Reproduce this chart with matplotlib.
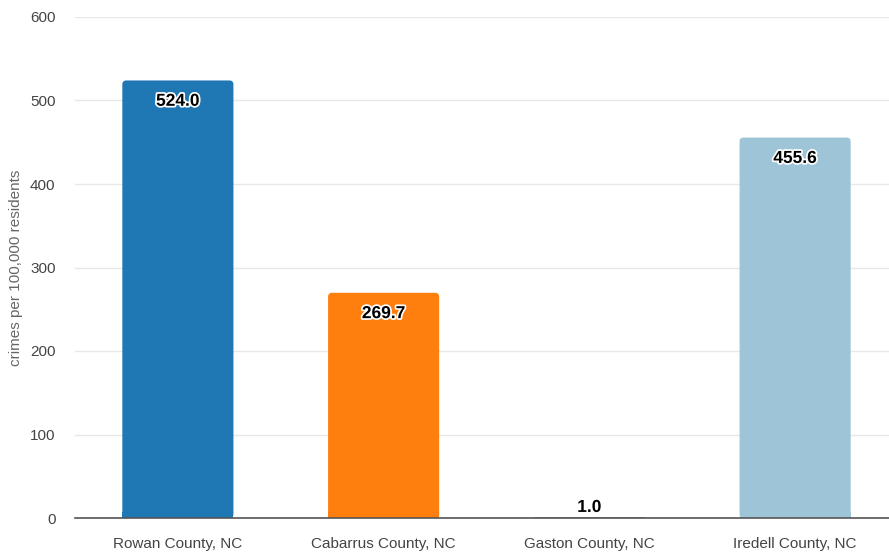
import matplotlib
matplotlib.use("Agg")
import matplotlib.pyplot as plt
import matplotlib.patheffects as pe
from matplotlib.patches import FancyBboxPatch

# Crime rate per 100,000 residents by county
counties = ["Rowan County, NC", "Cabarrus County, NC", "Gaston County, NC", "Iredell County, NC"]
rates = [524.0, 269.7, 1.0, 455.6]
colors = ["#1f77b4", "#ff7f0e", "#a58fc4", "#9ec4d8"]
yticks = [0, 100, 200, 300, 400, 500, 600]

plt.rcParams["font.family"] = ["Liberation Sans", "DejaVu Sans"]

W, H = 889, 557
fig = plt.figure(figsize=(W / 100, H / 100), dpi=100)
# axes runs slightly past the right edge of the figure
ax_w_px, ax_h_px = 823, 501
ax = fig.add_axes([75 / W, 1 - 518 / H, ax_w_px / W, ax_h_px / H])

xlim = (-0.5, 3.5)
ylim = (0, 600)
ax.set_xlim(*xlim)
ax.set_ylim(*ylim)

x = list(range(len(counties)))
bars = ax.bar(x, rates, width=0.54, color=colors, zorder=2)

# give the taller bars rounded top corners
x_per_px = (xlim[1] - xlim[0]) / ax_w_px
y_per_px = (ylim[1] - ylim[0]) / ax_h_px
radius_px = 4
for rect, c in zip(bars, colors):
    w, h = rect.get_width(), rect.get_height()
    if h < 3 * radius_px * y_per_px:
        continue
    rect.set_visible(False)
    x0 = rect.get_x()
    patch = FancyBboxPatch((x0, 0), w, h,
                           boxstyle=f"round,pad=0,rounding_size={radius_px * x_per_px}",
                           mutation_aspect=y_per_px / x_per_px,
                           facecolor=c, edgecolor="none", zorder=2)
    ax.add_patch(patch)
    # keep the bottom corners square
    ax.bar(x0 + w / 2, radius_px * y_per_px * 1.5, width=w, color=c, zorder=2)

ax.set_yticks(yticks)
ax.set_xticks(x)
ax.set_xticklabels(counties)
ax.tick_params(axis="both", length=0, labelsize=11, colors="#444444")
ax.tick_params(axis="y", pad=14)
ax.tick_params(axis="x", pad=14)
ax.yaxis.grid(True, color="#e8e8e8", linewidth=1, zorder=0)
ax.set_axisbelow(True)
for side in ["top", "right", "left"]:
    ax.spines[side].set_visible(False)
ax.spines["bottom"].set_color("#555555")
ax.spines["bottom"].set_linewidth(1.2)
ax.spines["bottom"].set_zorder(3)

ax.set_ylabel("crimes per 100,000 residents", fontsize=11, color="#666666", labelpad=5)

outline = [pe.withStroke(linewidth=2.5, foreground="white")]
for xi, v in zip(x, rates):
    offset = -15 if v > 30 else 7
    ax.annotate(f"{v:.1f}", (xi, v), xytext=(0, offset), textcoords="offset points",
                ha="center", va="center", fontsize=12.5, fontweight="bold",
                color="black", path_effects=outline, zorder=4)

fig.savefig("out.png", dpi=100)
